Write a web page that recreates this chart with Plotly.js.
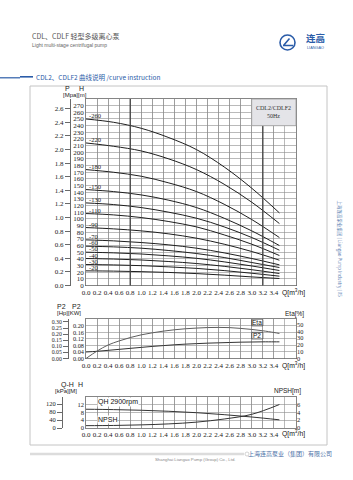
<!DOCTYPE html>
<html><head><meta charset="utf-8">
<script src="https://cdn.plot.ly/plotly-3.0.1.min.js"></script>
<style>html,body{margin:0;padding:0;background:#fff}#chart{width:353px;height:480px}</style>
</head><body><div id="chart"></div>
<script>
// ---------- data ----------
const flowQ=[0,0.5,1.0,1.5,2.0,2.5,3.0,3.5];
const modelLabels=['-260','-220','-180','-150','-130','-110','-90','-70','-60','-50','-40','-30','-20'];
const head260=[250,245,236,222,204,178,146,109];
const head220=[214,209,202,190,174,152,125,93];
const head180=[174,170,164,154,141,122,99,72];
const head150=[144,141,136,128,117,101,82,60];
const head130=[124,121.5,117,110,101,88,72,53];
const head110=[108,106,102,96,88,76,62,45];
const head90=[87,85,82,77.5,71,62,51,38];
const head70=[68.5,67,64.5,61,56,49,40.5,31];
const head60=[59,58,56,52.5,48,42,34.5,27];
const head50=[50,49,47.3,44.5,40.8,35.5,29.3,22.5];
const head40=[40.5,39.7,38.3,36,33,28.8,23.7,18];
const head30=[31.5,30.9,29.8,28,25.7,22.4,18.4,14];
const head20=[22,21.6,20.8,19.6,17.9,15.6,12.9,10.5];
const headCurves=[head260,head220,head180,head150,head130,head110,head90,head70,head60,head50,head40,head30,head20];

const flowFine=[0,0.2,0.4,0.6,0.8,1.0,1.2,1.4,1.6,1.8,2.0,2.2,2.4,2.6,2.8,3.0,3.2,3.4,3.5];
const etaPct=[0,11,20,26,31,35,38,40.5,42.5,44,45,45.8,46,45.7,44.5,43,41,38.5,37];
const p2Kw=[0.040,0.044,0.050,0.056,0.062,0.068,0.074,0.079,0.084,0.088,0.091,0.094,0.096,0.098,0.100,0.101,0.102,0.102,0.102];

const qhHead=[9.6,9.4,9.07,8.54,7.82,6.82,5.62,4.18];
const npshM=[0.6,0.65,0.8,1.05,1.5,2.3,3.5,6.0];

const xTickLabels=['0.0','0.2','0.4','0.6','0.8','1.0','1.2','1.4','1.6','1.8','2.0','2.2','2.4','2.6','2.8','3.0','3.2','3.4'];
const hTickLabels=['0','10','20','30','40','50','60','70','80','90','100','110','120','130','140','150','160','170','180','190','200','210','220','230','240','250','260','270'];
const pTickLabels=['0.0','0.2','0.4','0.6','0.8','1.0','1.2','1.4','1.6','1.8','2.0','2.2','2.4','2.6'];
const kwTickLabels=['0.00','0.04','0.08','0.12','0.16','0.20'];
const hpTickLabels=['0.00','0.05','0.10','0.15','0.20','0.25','0.30'];
const etaTickLabels=['0','10','20','30','40','50'];
const mTickLabels=['0','4','8','12'];
const kpaTickLabels=['0','40','80','120'];
const npshTickLabels=['0','2','4','6'];

// ---------- layout helpers ----------
const W=353,Hh=480;
const px=v=>v/W, py=v=>1-v/Hh;
const serif='Liberation Serif, Times New Roman, serif';
const sans='Liberation Sans, Arial, sans-serif';
const cjk='Noto Sans CJK SC, sans-serif';
const gridCol='#8c8c8c';
const blue='#2b5ca8';

function xAxis(anchor){
  return {domain:[px(86),px(296)],range:[0,3.8],anchor:anchor,tickvals:xTickLabels.map(Number),ticktext:xTickLabels,tickangle:0,
    showgrid:true,gridcolor:gridCol,gridwidth:0.6,zeroline:false,showline:true,linecolor:'#666',
    minor:{tick0:0,dtick:0.2,showgrid:true,gridcolor:gridCol,gridwidth:0.6,ticks:''},
    linewidth:0.8,mirror:true,ticks:'',tickfont:{family:serif,size:7,color:'#222'},fixedrange:true};
}
function yBase(dom,range,text,anchor,fs){
  return {domain:dom,range:range,anchor:anchor,tickvals:text.map(Number),ticktext:text,showgrid:true,gridcolor:gridCol,
    gridwidth:0.6,zeroline:false,showline:true,linecolor:'#666',linewidth:0.8,mirror:true,ticks:'',
    tickfont:{family:serif,size:fs||7,color:'#222'},fixedrange:true};
}
function ySec(over,pos,range,text,fs){
  return {overlaying:over,anchor:'free',position:pos,side:'left',range:range,tickvals:text.map(Number),ticktext:text,
    showgrid:false,zeroline:false,showline:true,linecolor:'#444',linewidth:0.8,ticks:'outside',ticklen:5,
    tickcolor:'#444',tickwidth:0.8,tickfont:{family:serif,size:fs||7,color:'#222'},fixedrange:true};
}

// ---------- traces ----------
const traces=[];
headCurves.forEach(c=>traces.push({x:flowQ,y:c,mode:'lines',line:{color:'#1e1e1e',width:1,shape:'spline',smoothing:1},
  xaxis:'x',yaxis:'y',hoverinfo:'skip',showlegend:false}));
traces.push({x:[],y:[],xaxis:'x',yaxis:'y2',showlegend:false});
traces.push({x:flowFine,y:p2Kw,mode:'lines',line:{color:'#333',width:1,shape:'spline'},xaxis:'x2',yaxis:'y3',showlegend:false});
traces.push({x:[],y:[],xaxis:'x2',yaxis:'y4',showlegend:false});
traces.push({x:flowFine,y:etaPct,mode:'lines',line:{color:'#5e5e5e',width:1,shape:'spline'},xaxis:'x2',yaxis:'y5',showlegend:false});
traces.push({x:flowQ,y:qhHead,mode:'lines',line:{color:'#333',width:1,shape:'spline'},xaxis:'x3',yaxis:'y6',showlegend:false});
traces.push({x:[],y:[],xaxis:'x3',yaxis:'y7',showlegend:false});
traces.push({x:flowQ,y:npshM,mode:'lines',line:{color:'#333',width:1,shape:'spline'},xaxis:'x3',yaxis:'y8',showlegend:false});

// ---------- axes ----------
const layout={
  width:W,height:Hh,margin:{l:0,r:0,t:0,b:0},paper_bgcolor:'#fff',plot_bgcolor:'#fff',showlegend:false,
  xaxis:xAxis('y'),
  yaxis:yBase([py(285.5),py(99)],[0,280],hTickLabels,'x'),
  yaxis2:ySec('y',px(70),[0,2.744],pTickLabels),
  xaxis2:xAxis('y3'),
  yaxis3:yBase([py(358.5),py(319.3)],[0,0.24],kwTickLabels,'x2',6.3),
  yaxis4:ySec('y3',px(68),[0,0.3218],hpTickLabels,5.8),
  yaxis5:{overlaying:'y3',anchor:'x2',side:'right',range:[0,58],tickvals:etaTickLabels.map(Number),ticktext:etaTickLabels,
    showgrid:false,zeroline:false,showline:false,ticks:'',tickfont:{family:serif,size:6.3,color:'#222'},fixedrange:true},
  xaxis3:xAxis('y6'),
  yaxis6:yBase([py(428),py(396.7)],[0,16],mTickLabels,'x3',6.5),
  yaxis7:ySec('y6',px(62),[0,156.8],kpaTickLabels,6.5),
  yaxis8:{overlaying:'y6',anchor:'x3',side:'right',range:[0,8],tickvals:npshTickLabels.map(Number),ticktext:npshTickLabels,
    showgrid:false,zeroline:false,showline:false,ticks:'',tickfont:{family:serif,size:6.5,color:'#222'},fixedrange:true},
  shapes:[],annotations:[]
};

// shapes
const S=layout.shapes, A=layout.annotations;
S.push({type:'rect',xref:'paper',yref:'paper',x0:px(30),x1:px(327),y0:py(445),y1:py(86),line:{color:'#c4c4c4',width:1},layer:'below'});
S.push({type:'line',xref:'paper',yref:'paper',x0:0,x1:px(20),y0:py(77.8),y1:py(77.8),line:{color:blue,width:1.2}});
S.push({type:'line',xref:'paper',yref:'paper',x0:px(20),x1:px(33),y0:py(76.8),y1:py(76.8),line:{color:blue,width:1.6}});
S.push({type:'line',xref:'paper',yref:'paper',x0:px(30),x1:px(244),y0:py(454),y1:py(454),line:{color:'#dcdcdc',width:2.5}});
S.push({type:'circle',xref:'paper',yref:'paper',x0:px(245),x1:px(249),y0:py(456),y1:py(452),line:{color:'#c8c8c8',width:0.8}});
// logo
S.push({type:'circle',xref:'paper',yref:'paper',x0:px(280),x1:px(295),y0:py(50),y1:py(35),line:{color:blue,width:1.6}});
S.push({type:'path',xref:'paper',yref:'paper',path:`M ${px(283)} ${py(45.5)} L ${px(293)} ${py(45.5)} M ${px(283.5)} ${py(45.5)} L ${px(289.5)} ${py(38.5)}`,line:{color:blue,width:1.6}});
// thick vertical lines main chart
S.push({type:'line',xref:'x',yref:'y',x0:0.8,x1:0.8,y0:0,y1:280,line:{color:'#444',width:1.3}});
S.push({type:'line',xref:'x',yref:'y',x0:3.2,x1:3.2,y0:0,y1:240,line:{color:'#444',width:1.3}});
// model box
S.push({type:'rect',xref:'paper',yref:'paper',x0:px(251.7),x1:px(296),y0:py(125.7),y1:py(99),fillcolor:'#e4e4e8',line:{color:'#999',width:0.8},layer:'above'});
// Eta / P2 boxes
S.push({type:'rect',xref:'x2',yref:'y3',x0:3.0,x1:3.2,y0:0.20,y1:0.24,fillcolor:'#fff',line:{color:'#333',width:0.8},layer:'above'});
S.push({type:'rect',xref:'x2',yref:'y3',x0:3.0,x1:3.2,y0:0.12,y1:0.16,fillcolor:'#fff',line:{color:'#333',width:0.8},layer:'above'});

function ann(x,y,text,size,opts){
  A.push(Object.assign({xref:'paper',yref:'paper',x:px(x),y:py(y),text:text,showarrow:false,xanchor:'center',yanchor:'middle',
    font:{family:sans,size:size,color:'#222'}},opts||{}));
}
// header
ann(30,36,'CDL、CDLF 轻型多级离心泵',7,{xanchor:'left',font:{family:cjk,size:7,color:'#555'}});
ann(30,44.5,'Light multi-stage centrifugal pump',5,{xanchor:'left',font:{family:sans,size:5,color:'#666'}});
ann(33.5,77,'CDL2、CDLF2 曲线说明 /curve instruction',6.5,{xanchor:'left',font:{family:cjk,size:6.5,color:blue}});
ann(304,37.8,'<b>连高</b>',9.5,{xanchor:'left',font:{family:cjk,size:9.5,color:blue}});
ann(305,48.3,'LIANGAO',3.8,{xanchor:'left',font:{family:sans,size:3.8,color:blue}});
// axis titles
ann(67,88.5,'P',7); ann(81.5,88.5,'H',7); ann(74.5,95,'[Mpa][m]',6);
ann(61.5,306,'P2',7); ann(76.5,306,'P2',7); ann(69,312.7,'[Hp][KW]',6);
ann(67.5,384.5,'Q-H',7); ann(80,384.5,'H',7); ann(66,390.8,'[kPa][M]',6);
ann(294,314,'Eta[%]',6.5); ann(287.5,391,'NPSH[m]',6.5);
[292,365,433].forEach(y=>ann(293.5,y,'Q[m<sup>3</sup>/h]',6.8,{font:{family:sans,size:6.8,color:'#111'}}));
// model box text
ann(273.8,108,'CDL2/CDLF2',6,{font:{family:serif,size:6,color:'#333'}});
ann(273.8,116.5,'50Hz',6,{font:{family:serif,size:6,color:'#333'}});
// curve labels
headCurves.forEach((c,i)=>A.push({xref:'x',yref:'y',x:0,y:c[0],text:modelLabels[i],showarrow:false,xanchor:'left',yanchor:'bottom',
  xshift:1,yshift:-2,font:{family:serif,size:6.5,color:'#222'}}));
// Eta / P2 labels
A.push({xref:'x2',yref:'y3',x:3.1,y:0.22,text:'Eta',showarrow:false,font:{family:sans,size:6.5,color:'#111'}});
A.push({xref:'x2',yref:'y3',x:3.1,y:0.14,text:'P2',showarrow:false,font:{family:sans,size:6.5,color:'#111'}});
// bottom chart labels
A.push({xref:'x3',yref:'y6',x:0.19,y:qhHead[0]+0.9,text:'QH 2900rpm',showarrow:false,xanchor:'left',yanchor:'bottom',
  bgcolor:'#fff',borderpad:0,font:{family:sans,size:7,color:'#111'}});
A.push({xref:'x3',yref:'y6',x:0.19,y:npshM[0]*2+0.6,text:'NPSH',showarrow:false,xanchor:'left',yanchor:'bottom',
  bgcolor:'#fff',borderpad:0,font:{family:sans,size:7,color:'#111'}});
// side & footer text
ann(339.5,249,'上海连高泵业集团 | Liangao Pump Industry | 05',4.5,{textangle:90,font:{family:cjk,size:4.5,color:'#5b80b3'}});
ann(290,453,'上海连高泵业（集团）有限公司',6,{font:{family:cjk,size:6,color:'#4a6fa6'}});
ann(195,459.5,'Shanghai Liangao Pump (Group) Co., Ltd.',4.3,{font:{family:sans,size:4.3,color:'#888'}});

Plotly.newPlot('chart',traces,layout,{staticPlot:true,displayModeBar:false});
</script></body></html>
